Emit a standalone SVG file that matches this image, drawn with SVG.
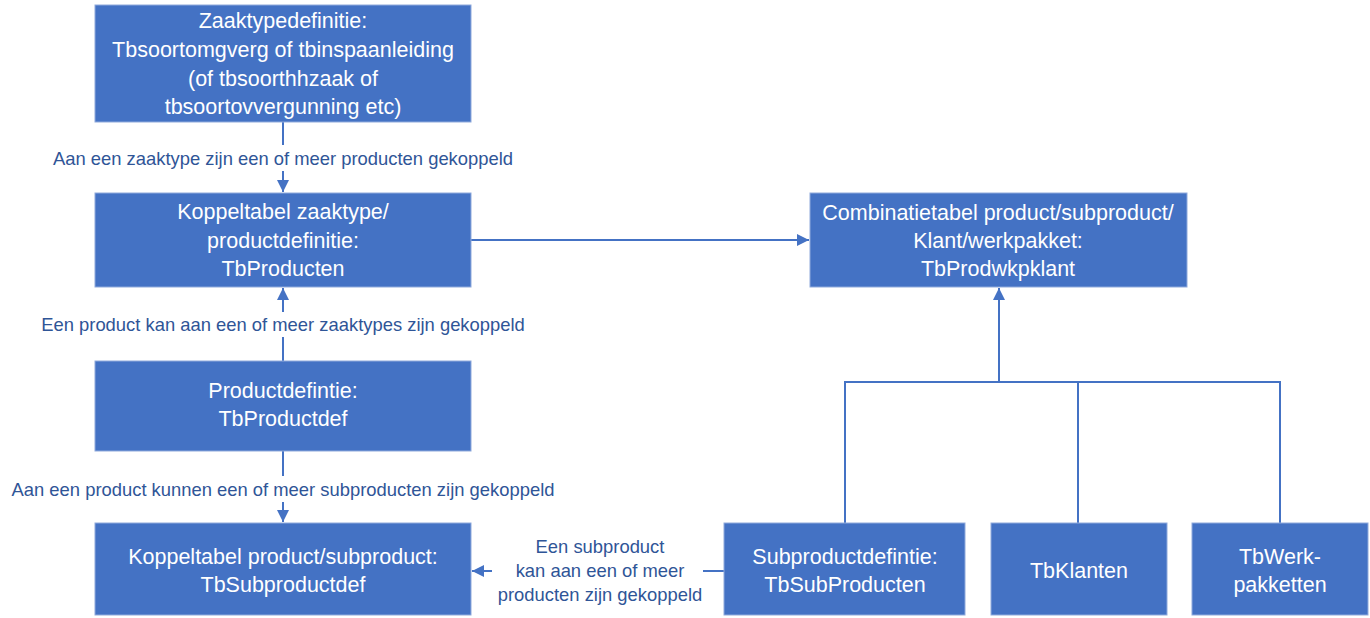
<svg xmlns="http://www.w3.org/2000/svg" width="1370" height="618" viewBox="0 0 1370 618">
<defs>
<style>
.box{fill:#4472C4;stroke:#8FAADC;stroke-width:1}
.bt{font-family:"Liberation Sans",Arial,sans-serif;font-size:21.5px;fill:#FFFFFF;text-anchor:middle}
.lt{font-family:"Liberation Sans",Arial,sans-serif;font-size:18.4px;fill:#2F5597;text-anchor:middle}
.ln{stroke:#4472C4;stroke-width:2;fill:none}
</style>
<marker id="ah" viewBox="0 0 10 10" refX="10" refY="5" markerWidth="6" markerHeight="6" orient="auto" markerUnits="strokeWidth">
<path d="M0,0 L10,5 L0,10 z" fill="#4472C4"/>
</marker>
</defs>
<rect width="1370" height="618" fill="#FFFFFF"/>
<g id="connectors">
<path class="ln" d="M283,122 V145"/>
<path class="ln" d="M283,171 V192" marker-end="url(#ah)"/>
<path class="ln" d="M283,361 V337"/>
<path class="ln" d="M283,312 V288" marker-end="url(#ah)"/>
<path class="ln" d="M283,451 V476"/>
<path class="ln" d="M283,502 V522" marker-end="url(#ah)"/>
<path class="ln" d="M724,571 H703"/>
<path class="ln" d="M492,571 H472" marker-end="url(#ah)"/>
<path class="ln" d="M471,240 H809" marker-end="url(#ah)"/>
<path class="ln" d="M845,523 V382 H1280 V523"/>
<path class="ln" d="M1078,523 V382"/>
<path class="ln" d="M999,382 V288" marker-end="url(#ah)"/>
<text class="lt" x="283" y="164.5">Aan een zaaktype zijn een of meer producten gekoppeld</text>
<text class="lt" x="283" y="330.5">Een product kan aan een of meer zaaktypes zijn gekoppeld</text>
<text class="lt" x="283" y="495.5">Aan een product kunnen een of meer subproducten zijn gekoppeld</text>
<text class="lt" x="600" y="552.5">Een subproduct</text>
<text class="lt" x="600" y="577">kan aan een of meer</text>
<text class="lt" x="600" y="600.5">producten zijn gekoppeld</text>
</g>
<g id="zaaktypedefinitie">
<rect class="box" x="95" y="5" width="376" height="117"/>
<text class="bt" x="283" y="27.5">Zaaktypedefinitie:</text>
<text class="bt" x="283" y="56.5">Tbsoortomgverg of tbinspaanleiding</text>
<text class="bt" x="283" y="85.5">(of tbsoorthhzaak of</text>
<text class="bt" x="283" y="114">tbsoortovvergunning etc)</text>
</g>
<g id="tbproducten">
<rect class="box" x="95" y="193" width="376" height="94"/>
<text class="bt" x="283" y="219">Koppeltabel zaaktype/</text>
<text class="bt" x="283" y="247.5">productdefinitie:</text>
<text class="bt" x="283" y="276">TbProducten</text>
</g>
<g id="tbproductdef">
<rect class="box" x="95" y="361" width="376" height="90"/>
<text class="bt" x="283" y="398">Productdefintie:</text>
<text class="bt" x="283" y="426">TbProductdef</text>
</g>
<g id="tbsubproductdef">
<rect class="box" x="95" y="523" width="376" height="92"/>
<text class="bt" x="283" y="563.5">Koppeltabel product/subproduct:</text>
<text class="bt" x="283" y="591.5">TbSubproductdef</text>
</g>
<g id="tbprodwkpklant">
<rect class="box" x="810" y="193" width="377" height="94"/>
<text class="bt" x="998" y="219.5">Combinatietabel product/subproduct/</text>
<text class="bt" x="998" y="247.5">Klant/werkpakket:</text>
<text class="bt" x="998" y="276">TbProdwkpklant</text>
</g>
<g id="tbsubproducten">
<rect class="box" x="724" y="523" width="241" height="92"/>
<text class="bt" x="845" y="563.5">Subproductdefintie:</text>
<text class="bt" x="845" y="591.5">TbSubProducten</text>
</g>
<g id="tbklanten">
<rect class="box" x="991" y="523" width="176" height="92"/>
<text class="bt" x="1079" y="577.5">TbKlanten</text>
</g>
<g id="tbwerkpakketten">
<rect class="box" x="1192" y="523" width="176" height="92"/>
<text class="bt" x="1280" y="563.5">TbWerk-</text>
<text class="bt" x="1280" y="591.5">pakketten</text>
</g>
</svg>
